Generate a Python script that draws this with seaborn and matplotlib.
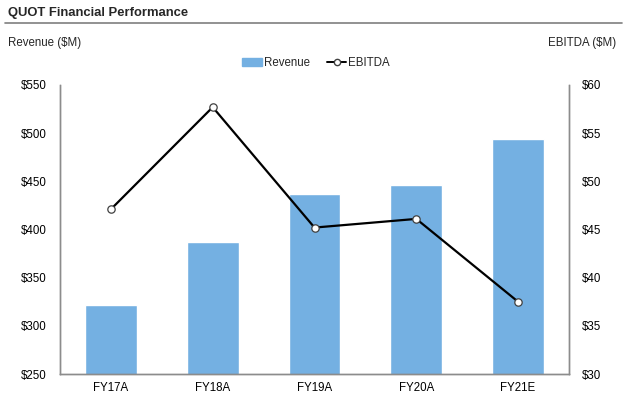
import pandas as pd
import seaborn as sns
import matplotlib.pyplot as plt
from matplotlib.lines import Line2D

# Data
years = ['FY17A', 'FY18A', 'FY19A', 'FY20A', 'FY21E']
revenue = [322, 387, 437, 446, 494]
ebitda = [47.1, 57.7, 45.2, 46.1, 37.5]

BAR_COLOR = '#74B0E2'
AXIS_COLOR = '#8C8C8C'
FS = 8.3


def build_frame():
    return pd.DataFrame({'year': years, 'revenue': revenue, 'ebitda': ebitda})


def draw(df):
    sns.set_style('white')
    plt.rcParams['font.family'] = ['Liberation Sans', 'DejaVu Sans']

    fig = plt.figure(figsize=(6.27, 4.0), dpi=100)
    ax = fig.add_axes([60 / 627, 26 / 400, 509 / 627, 289 / 400])

    sns.barplot(data=df, x='year', y='revenue', color=BAR_COLOR,
                saturation=1, width=0.51, ax=ax, label='Revenue')
    ax.set_ylim(250, 550)
    ax.set_xlim(-0.5, len(years) - 0.5)
    ax.set_yticks(range(250, 551, 50))
    ax.set_yticklabels([f'${v}' for v in range(250, 551, 50)])
    ax.set_xlabel('')
    ax.set_ylabel('')

    ax2 = ax.twinx()
    sns.lineplot(data=df, x='year', y='ebitda', color='black', linewidth=1.6,
                 marker='o', markersize=5.3, markerfacecolor='white',
                 markeredgecolor='#404040', markeredgewidth=0.9, ax=ax2,
                 sort=False)
    ax2.set_ylim(30, 60)
    ax2.set_yticks(range(30, 61, 5))
    ax2.set_yticklabels([f'${v}' for v in range(30, 61, 5)])
    ax2.set_ylabel('')
    ax2.set_xlim(-0.5, len(years) - 0.5)

    for a in (ax, ax2):
        a.spines['top'].set_visible(False)
        for s in ('left', 'right', 'bottom'):
            a.spines[s].set_color(AXIS_COLOR)
            a.spines[s].set_linewidth(1.0)
        a.tick_params(length=0, labelsize=FS, colors='black')
        a.grid(False)
    ax.tick_params(axis='y', pad=9.5)
    ax2.tick_params(axis='y', pad=9.5)
    ax.tick_params(axis='x', pad=6)

    # title and header rule
    fig.text(8 / 627, 1 - 13 / 400, 'QUOT Financial Performance',
             fontsize=9.4, fontweight='bold', va='center', ha='left')
    fig.add_artist(Line2D([5 / 627, 622 / 627], [1 - 23 / 400, 1 - 23 / 400],
                          color='#7F7F7F', linewidth=1.2))
    fig.text(8 / 627, 1 - 43 / 400, 'Revenue ($M)', fontsize=FS,
             va='center', ha='left')
    fig.text(616 / 627, 1 - 43 / 400, 'EBITDA ($M)', fontsize=FS,
             va='center', ha='right')

    handles = [
        plt.Rectangle((0, 0), 1, 1, color=BAR_COLOR),
        Line2D([0], [0], color='black', linewidth=1.4, marker='o',
               markersize=4.5, markerfacecolor='white',
               markeredgecolor='#404040'),
    ]
    if ax.get_legend():
        ax.get_legend().remove()
    if ax2.get_legend():
        ax2.get_legend().remove()
    fig.legend(handles, ['Revenue', 'EBITDA'], loc='center',
               bbox_to_anchor=(316 / 627, 1 - 63 / 400), ncol=2, frameon=False,
               fontsize=FS, handlelength=1.7, handletextpad=0.15,
               columnspacing=1.5, handleheight=0.6)

    fig.savefig('out.png', dpi=100)
    plt.close(fig)


def main():
    df = build_frame()
    draw(df)


if __name__ == '__main__':
    main()
